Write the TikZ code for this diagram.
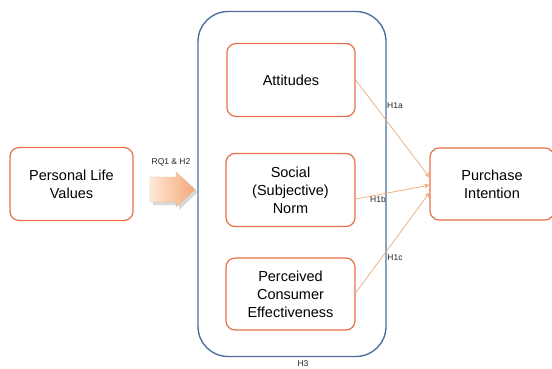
\documentclass[tikz,border=0pt]{standalone}
\usepackage{fontspec}
\setmainfont{Liberation Sans}
\usetikzlibrary{arrows.meta,shadows}
\definecolor{boxor}{RGB}{232,112,74}
\definecolor{boxbl}{RGB}{80,110,160}
\definecolor{lnor}{RGB}{235,170,120}
\definecolor{arlight}{RGB}{253,232,215}
\definecolor{ardark}{RGB}{246,168,118}
\tikzset{
  obox/.style={draw=boxor, line width=1.2pt, rounded corners=9pt, fill=white, align=center,
    font=\fontsize{14.5}{18}\selectfont, inner sep=0pt},
  hlink/.style={draw=lnor, line width=0.7pt, -{Stealth[length=6pt,width=5pt,open]}},
  hlab/.style={font=\fontsize{8.5}{10}\selectfont, text=black!85},
}
\begin{document}
\begin{tikzpicture}[x=1pt,y=-1pt]
\useasboundingbox (0,0) rectangle (552,369);
% big blue container
\node[draw=boxbl, line width=1.4pt, rounded corners=30pt, minimum width=188pt, minimum height=345pt, inner sep=0pt] (grp) at (292,184) {};
\node[obox, minimum width=128pt, minimum height=73pt] (att) at (291,80) {Attitudes};
\node[obox, minimum width=129pt, minimum height=73pt] (soc) at (290.5,190) {Social\\(Subjective)\\Norm};
\node[obox, minimum width=129pt, minimum height=72pt] (pce) at (290.5,294) {Perceived\\Consumer\\Effectiveness};
\node[obox, minimum width=123pt, minimum height=73pt] (plv) at (71.5,184) {Personal Life\\Values};
\node[obox, minimum width=124pt, minimum height=72pt] (pi) at (492,184) {Purchase\\Intention};
% block arrow
\fill[black!30, opacity=0.5] (153,180) -- (179,180) -- (179,175) -- (198,192) -- (179,210) -- (179,205) -- (153,205) -- cycle;
\shade[left color=arlight, right color=ardark, draw=ardark!80!black!60, line width=0.4pt]
  (150,177) -- (176,177) -- (176,172) -- (195,189.5) -- (176,207) -- (176,202) -- (150,202) -- cycle;
\node[hlab] (rq) at (171,162) {RQ1 \& H2};
% links
\coordinate (pia) at (430,178);
\coordinate (pib) at (430,185);
\coordinate (pic) at (430,192);
\draw[hlink] (att.east |- 0,80) -- (pia);
\draw[hlink] (soc.east |- 0,199) -- (pib);
\draw[hlink] (pce.east |- 0,293) -- (pic);
\node[hlab] (h1a) at (395,106) {H1a};
\node[hlab] (h1b) at (378,199.5) {H1b};
\node[hlab] (h1c) at (395,258) {H1c};
\node[hlab] (h3) at (303,364) {H3};
\end{tikzpicture}
\end{document}
